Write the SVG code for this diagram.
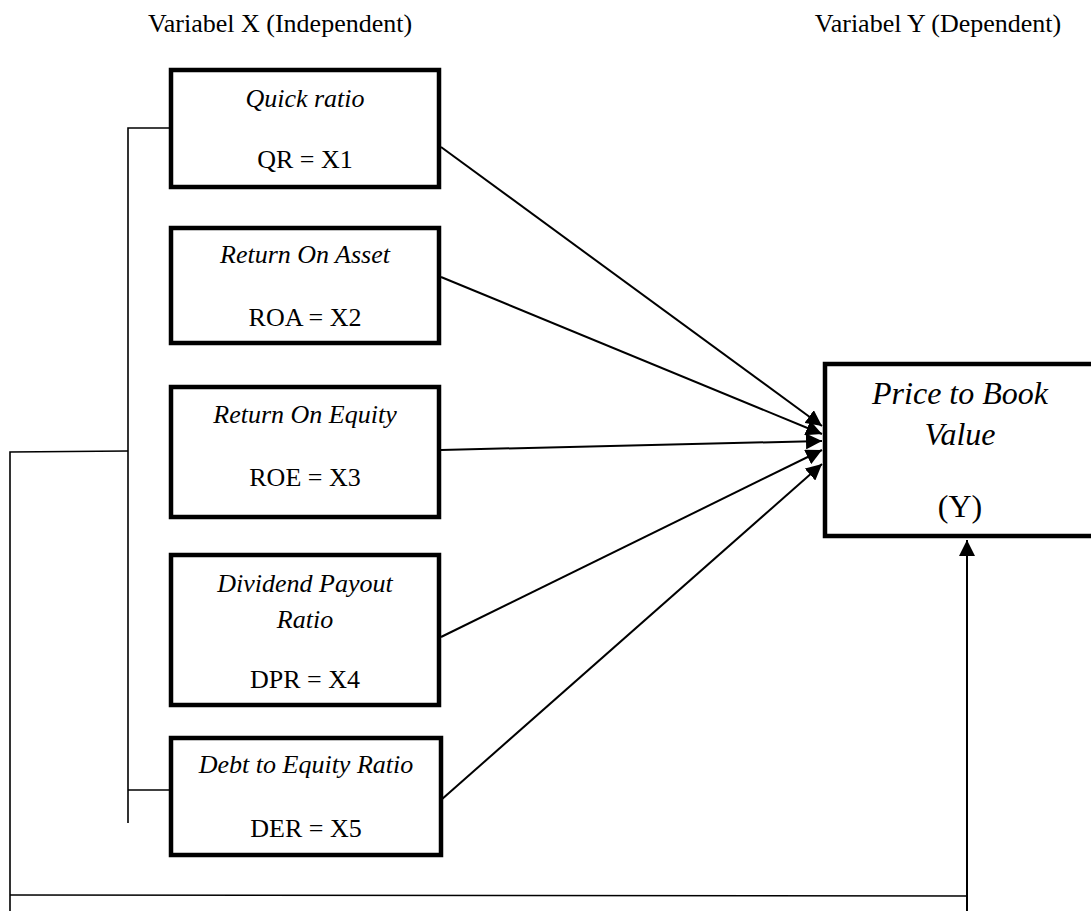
<svg xmlns="http://www.w3.org/2000/svg" width="1091" height="911" viewBox="0 0 1091 911">
<defs>
<style>
.box{fill:#fff;stroke:#000;stroke-width:4.5}
.t{font-family:"Liberation Serif","Times New Roman",serif;fill:#000;text-anchor:middle}
.i{font-style:italic}
.ln{fill:none;stroke:#000;stroke-width:2}
.th{fill:none;stroke:#000;stroke-width:1.6}
</style>
<marker id="ah" viewBox="0 0 10 10" refX="10" refY="5" markerWidth="7" markerHeight="7" markerUnits="userSpaceOnUse" orient="auto">
<path d="M0,0 L10,5 L0,10 z" fill="#000"/>
</marker>
<marker id="ah2" viewBox="0 0 10 10" refX="10" refY="5" markerWidth="8" markerHeight="8" orient="auto">
<path d="M0,0 L10,5 L0,10 z" fill="#000"/>
</marker>
</defs>
<rect width="1091" height="911" fill="#fff"/>
<text class="t" x="280" y="32" font-size="26">Variabel X (Independent)</text>
<text class="t" x="938" y="32" font-size="26">Variabel Y (Dependent)</text>
<g id="connectors">
<polyline class="th" points="171,128 128,128 128,823"/>
<line class="th" x1="128" y1="790" x2="171" y2="790"/>
<polyline class="th" points="128,451 10,452 10,911"/>
<line class="th" x1="10" y1="895" x2="967" y2="896"/>
<line class="ln" x1="967" y1="911" x2="967" y2="540" marker-end="url(#ah2)"/>
<line class="ln" x1="441" y1="147" x2="822" y2="426" marker-end="url(#ah2)"/>
<line class="ln" x1="441" y1="277" x2="822" y2="434" marker-end="url(#ah2)"/>
<line class="ln" x1="441" y1="450" x2="822" y2="441" marker-end="url(#ah2)"/>
<line class="ln" x1="441" y1="637" x2="822" y2="450" marker-end="url(#ah2)"/>
<line class="ln" x1="441" y1="800" x2="822" y2="464" marker-end="url(#ah2)"/>
</g>
<g id="node-qr">
<rect class="box" x="171" y="70" width="268" height="117"/>
<text class="t i" x="305" y="107" font-size="26">Quick ratio</text>
<text class="t" x="305" y="168" font-size="26">QR = X1</text>
</g>
<g id="node-roa">
<rect class="box" x="171" y="228" width="268" height="115"/>
<text class="t i" x="305" y="263" font-size="26">Return On Asset</text>
<text class="t" x="305" y="326" font-size="26">ROA = X2</text>
</g>
<g id="node-roe">
<rect class="box" x="171" y="387" width="268" height="130"/>
<text class="t i" x="305" y="423" font-size="26">Return On Equity</text>
<text class="t" x="305" y="486" font-size="26">ROE = X3</text>
</g>
<g id="node-dpr">
<rect class="box" x="171" y="555" width="268" height="150"/>
<text class="t i" x="305" y="592" font-size="26">Dividend Payout</text>
<text class="t i" x="305" y="628" font-size="26">Ratio</text>
<text class="t" x="305" y="688" font-size="26">DPR = X4</text>
</g>
<g id="node-der">
<rect class="box" x="171" y="738" width="270" height="117"/>
<text class="t i" x="306" y="773" font-size="26">Debt to Equity Ratio</text>
<text class="t" x="306" y="837" font-size="26">DER = X5</text>
</g>
<g id="node-pbv">
<rect class="box" x="825" y="364" width="300" height="172"/>
<text class="t i" x="960" y="404" font-size="32">Price to Book</text>
<text class="t i" x="960" y="445" font-size="32">Value</text>
<text class="t" x="960" y="517" font-size="32">(Y)</text>
</g>
</svg>
